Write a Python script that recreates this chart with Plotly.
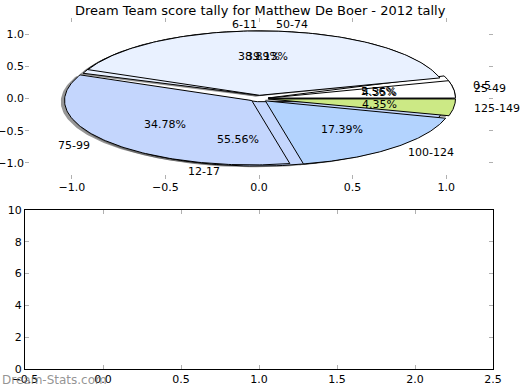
import numpy as np
import plotly.graph_objects as go

title = "Dream Team score tally for Matthew De Boer - 2012 tally"
pie1_labels = ["0-5", "6-11", "12-17"]
pie1_values = [1, 7, 10]
pie1_colors = ["#ffffff", "#e9f1ff", "#c4d6fd"]
pie2_labels = ["25-49", "50-74", "75-99", "100-124", "125-149"]
pie2_values = [1, 9, 8, 4, 1]
pie2_colors = ["#ffffff", "#e9f1ff", "#c4d6fd", "#b3d3fe", "#cce985"]
explode = 0.05
x_ticks_top = [-1.0, -0.5, 0.0, 0.5, 1.0]
y_ticks_top = [-1.0, -0.5, 0.0, 0.5, 1.0]
x_ticks_bottom = [-0.5, 0.0, 0.5, 1.0, 1.5, 2.0, 2.5]
y_ticks_bottom = [0, 2, 4, 6, 8, 10]

fig = go.Figure()


def wedges(values):
    total = float(sum(values))
    out = []
    start = 0.0
    for v in values:
        frac = v / total
        t1, t2 = 2 * np.pi * start, 2 * np.pi * (start + frac)
        mid = (t1 + t2) / 2
        cx, cy = explode * np.cos(mid), explode * np.sin(mid)
        out.append((t1, t2, mid, cx, cy, frac))
        start += frac
    return out


def wedge_xy(t1, t2, cx, cy, dx=0.0, dy=0.0):
    th = np.linspace(t1, t2, 120)
    xs = np.concatenate([[cx], cx + np.cos(th), [cx]]) + dx
    ys = np.concatenate([[cy], cy + np.sin(th), [cy]]) + dy
    return xs, ys


pies = [(pie1_labels, pie1_values, pie1_colors), (pie2_labels, pie2_values, pie2_colors)]

# shadows
for labels, values, colors in pies:
    for (t1, t2, mid, cx, cy, frac) in wedges(values):
        xs, ys = wedge_xy(t1, t2, cx, cy, -0.02, -0.02)
        fig.add_trace(go.Scatter(x=xs, y=ys, mode="lines", fill="toself",
                                 fillcolor="rgba(80,80,80,0.6)", line=dict(width=0),
                                 hoverinfo="skip", xaxis="x", yaxis="y"))

annotations = []
for labels, values, colors in pies:
    for (t1, t2, mid, cx, cy, frac), lab, col in zip(wedges(values), labels, colors):
        xs, ys = wedge_xy(t1, t2, cx, cy)
        fig.add_trace(go.Scatter(x=xs, y=ys, mode="lines", fill="toself",
                                 fillcolor=col, line=dict(color="black", width=1),
                                 hoverinfo="skip", xaxis="x", yaxis="y"))
        # percentage
        px = cx + 0.6 * np.cos(mid)
        py = cy + 0.6 * np.sin(mid)
        annotations.append(dict(x=px, y=py, xref="x", yref="y", text="%.2f%%" % (frac * 100),
                                showarrow=False, font=dict(size=11, color="black"),
                                xanchor="center", yanchor="middle"))
        lx = cx + 1.1 * np.cos(mid)
        ly = cy + 1.1 * np.sin(mid)
        annotations.append(dict(x=lx, y=ly, xref="x", yref="y", text=lab, showarrow=False,
                                font=dict(size=11, color="black"),
                                xanchor="left" if lx > 1e-6 else "right", yanchor="middle"))

# empty bottom axes
fig.add_trace(go.Scatter(x=[], y=[], xaxis="x2", yaxis="y2"))

annotations.append(dict(x=0.5, y=1 - 10 / 390, xref="paper", yref="paper", text=title,
                        showarrow=False, font=dict(size=13, color="black"),
                        xanchor="center", yanchor="middle"))
annotations.append(dict(x=0.0, y=1 - 380 / 390, xref="paper", yref="paper", text="Dream-Stats.com",
                        showarrow=False, font=dict(size=12, color="rgba(120,120,120,0.8)"),
                        xanchor="left", yanchor="middle"))

axis_common = dict(ticks="inside", ticklen=4, tickcolor="#b0b0b0", showgrid=False,
                   zeroline=False, tickfont=dict(size=11, color="black"), mirror="ticks",
                   automargin=False)

fig.update_layout(
    width=520, height=390, margin=dict(l=0, r=0, t=0, b=0),
    paper_bgcolor="white", plot_bgcolor="rgba(0,0,0,0)", showlegend=False,
    font=dict(family="DejaVu Sans"),
    xaxis=dict(domain=[25 / 520, 493 / 520], range=[-1.25, 1.25], tickvals=x_ticks_top,
               ticktext=[("%.1f" % v).replace("-", "\u2212") for v in x_ticks_top],
               showline=False, anchor="y", **axis_common),
    yaxis=dict(domain=[1 - 179 / 390, 1 - 18 / 390], range=[-1.25, 1.25], tickvals=y_ticks_top,
               ticktext=[("%.1f" % v).replace("-", "\u2212") for v in y_ticks_top],
               showline=False, anchor="x", **axis_common),
    xaxis2=dict(domain=[25 / 520, 493 / 520], range=[-0.5, 2.5], tickvals=x_ticks_bottom,
                ticktext=[("%.1f" % v).replace("-", "\u2212") for v in x_ticks_bottom],
                showline=True, linecolor="black", linewidth=1, anchor="y2", **axis_common),
    yaxis2=dict(domain=[1 - 369 / 390, 1 - 210 / 390], range=[0, 10], tickvals=y_ticks_bottom,
                showline=True, linecolor="black", linewidth=1, anchor="x2", **axis_common),
    annotations=annotations,
)

fig.write_html("out.html", config={"displayModeBar": False},
               post_script="document.body.style.margin='0';")
